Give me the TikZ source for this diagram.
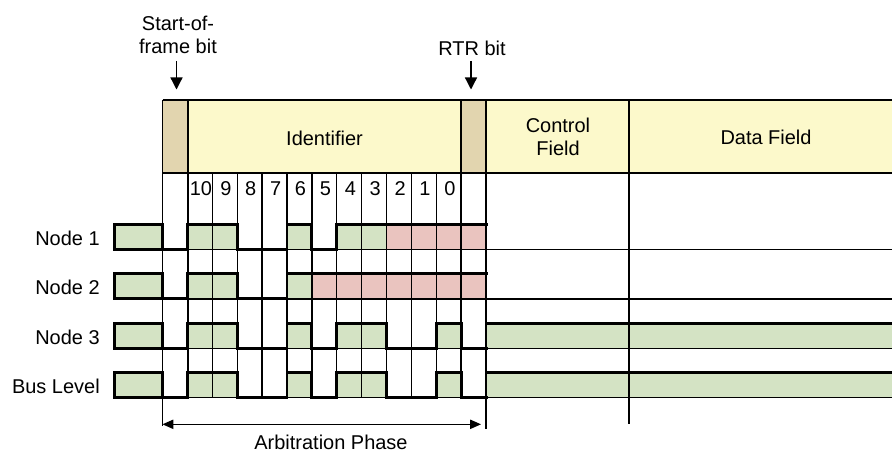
\documentclass[tikz,border=0pt]{standalone}
\usepackage{fontspec}
\setmainfont{Liberation Sans}
\usetikzlibrary{arrows.meta,positioning}
\definecolor{bitgreen}{RGB}{212,227,196}
\definecolor{bitpink}{RGB}{234,196,191}
\definecolor{hdryellow}{RGB}{252,249,203}
\definecolor{hdrtan}{RGB}{226,213,175}
\tikzset{
  thinline/.style={line width=0.9pt},
  wave/.style={line width=2.1pt, line cap=rect},
  lbl/.style={font=\fontsize{14.2}{16}\selectfont, inner sep=0pt},
  downarr/.style={line width=0.9pt, -{Triangle[length=0.3cm,width=0.3cm]}},
}
\begin{document}
\begin{tikzpicture}[x=0.025cm, y=-0.025cm]
\useasboundingbox (0,0) rectangle (892,453);
% header fields
\fill[hdrtan] (162.5,100) rectangle (188,173);
\fill[hdryellow] (188,100) rectangle (461,173);
\fill[hdrtan] (461,100) rectangle (486,173);
\fill[hdryellow] (486,100) rectangle (892,173);
\node[lbl, anchor=base] (ident) at (324.5,145) {Identifier};
\node[lbl, anchor=north, align=center] (ctrl) at (558,118) {Control\\Field};
\node[lbl, anchor=base] (data) at (766,144) {Data Field};
% bit cell fills (1 = recessive, 0 = dominant, 2 = lost arbitration)
\foreach \r/\bits in {0/{0,1,1,0,0,1,0,1,1,2,2,2,2}, 1/{0,1,1,0,0,1,2,2,2,2,2,2,2},
                      2/{0,1,1,0,0,1,0,1,1,0,0,1,0}, 3/{0,1,1,0,0,1,0,1,1,0,0,1,0}} {
    \pgfmathsetmacro\yh{224.5+49.4*\r}
    \pgfmathsetmacro\yl{\yh+25}
    \foreach \v [count=\i from 0] in \bits {
        \pgfmathsetmacro\xa{162.5+24.9*\i}
        \ifnum\v=1 \fill[bitgreen] (\xa,\yh) rectangle ++(24.9,25); \fi
        \ifnum\v=2 \fill[bitpink] (\xa,\yh) rectangle ++(24.9,25); \fi
    }
    \ifnum\r>1 \fill[bitgreen] (486,\yh) rectangle (892,\yl); \fi
    \draw[thinline] (162.5,\yl) -- (892,\yl);
}
% grid
\draw[thinline] (162.5,100) -- (892,100) (162.5,173) -- (892,173);
\foreach \i in {2,...,11}
    \draw[thinline] ({162.5+24.9*\i},173) -- ({162.5+24.9*\i},397.7);
\draw[thinline] (188,100) -- (188,397.7) (461,100) -- (461,397.7);
\draw[thinline] (162.5,100) -- (162.5,426) (486,100) -- (486,429) (629,100) -- (629,424);
% bit numbers
\foreach \n [count=\i] in {10,9,...,0}
    \node[lbl, anchor=base] (bit\n) at ({162.5+24.9*\i+13.5},195) {\n};
% waveforms
\foreach \r/\bits in {0/{0,1,1,0,0,1,0,1,1,2,2,2,2}, 1/{0,1,1,0,0,1,2,2,2,2,2,2,2},
                      2/{0,1,1,0,0,1,0,1,1,0,0,1,0}, 3/{0,1,1,0,0,1,0,1,1,0,0,1,0}} {
    \pgfmathsetmacro\yh{224.5+49.4*\r}
    \pgfmathsetmacro\yl{\yh+25}
    \draw[wave, fill=bitgreen] (114.5,\yh) rectangle (162.5,\yl);
    \foreach \v [count=\i from 0, remember=\v as \p (initially 1)] in \bits {
        \pgfmathsetmacro\xa{162.5+24.9*\i}
        \pgfmathsetmacro\xb{\xa+24.9}
        \ifnum\v=0 \draw[wave] (\xa,\yl) -- (\xb,\yl); \else \draw[wave] (\xa,\yh) -- (\xb,\yh); \fi
        \pgfmathtruncatemacro\tr{(\v==0)!=(\p==0)}
        \ifnum\tr=1 \draw[wave] (\xa,\yh) -- (\xa,\yl); \fi
    }
    \ifnum\r>1 \draw[wave] (486,\yl) -- (486,\yh) -- (892,\yh); \fi
}
% row labels
\foreach \r/\txt in {0/Node 1, 1/Node 2, 2/Node 3, 3/Bus Level}
    \node[lbl, anchor=base east] (row\r) at (100,{245.5+49.4*\r}) {\txt};
% bit markers
\node[lbl, anchor=north, align=center] (soflbl) at (178,16) {Start-of-\\frame bit};
\node[lbl, anchor=base] (rtrlbl) at (472,56) {RTR bit};
\coordinate (softop) at (176.5,61);
\coordinate (softip) at (176.5,89.5);
\coordinate (rtrtop) at (471,61);
\coordinate (rtrtip) at (471,89.5);
\draw[downarr] (softop) -- (softip);
\draw[downarr] (rtrtop) -- (rtrtip);
% arbitration phase
\coordinate (arbl) at (162.5,424.3);
\coordinate (arbr) at (481,424.3);
\draw[line width=0.9pt, {Triangle[length=0.27cm,width=0.23cm]}-{Triangle[length=0.27cm,width=0.23cm]}] (arbl) -- (arbr);
\node[lbl, anchor=base] (arb) at (331,449.5) {Arbitration Phase};
\end{tikzpicture}
\end{document}
